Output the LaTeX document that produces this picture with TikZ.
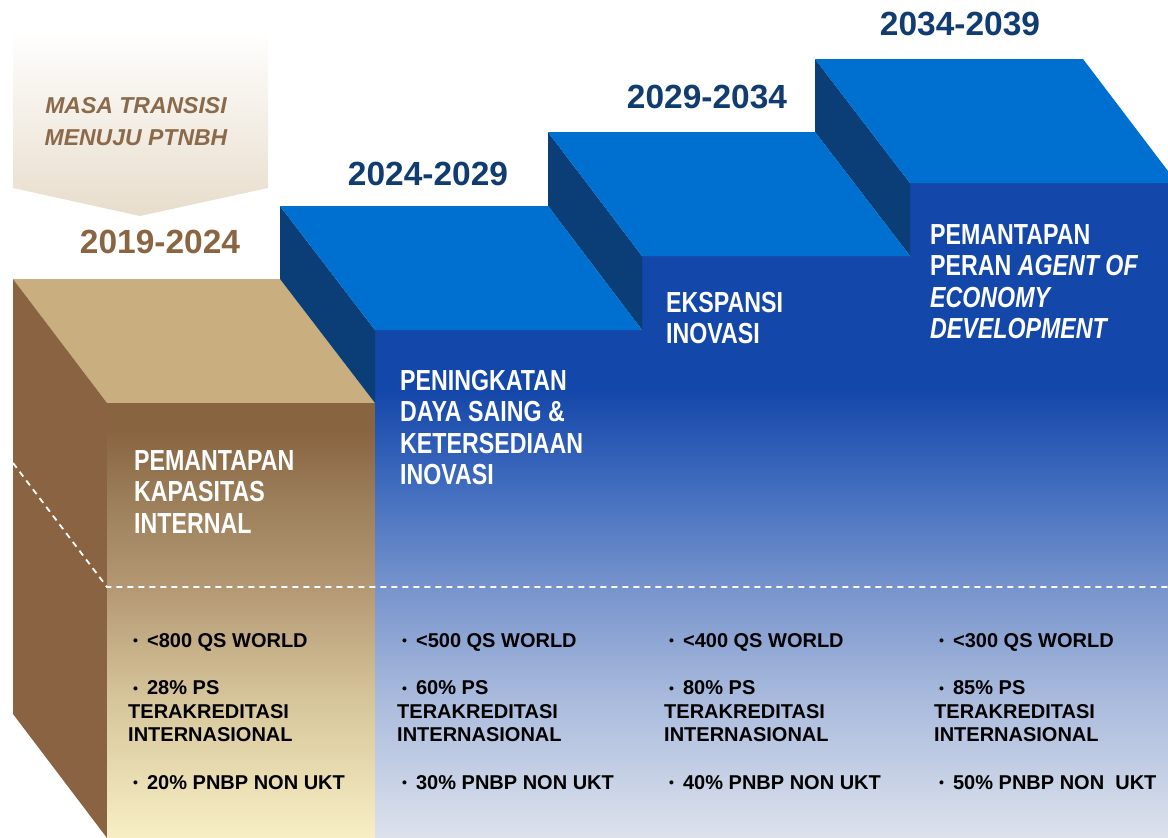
\documentclass[tikz,border=0pt]{standalone}
\usepackage{fontspec}
\setmainfont{Liberation Sans}
\newfontfamily\condfont[FakeStretch=0.8]{Liberation Sans}
\usetikzlibrary{positioning}

\definecolor{yearnavy}{RGB}{16, 60, 112}
\definecolor{yearbrown}{RGB}{139, 100, 65}
\definecolor{transbrown}{RGB}{138, 106, 75}
\definecolor{arrowbeige}{RGB}{232, 221, 204}
\definecolor{tantop}{RGB}{201, 174, 127}
\definecolor{tanside}{RGB}{138, 100, 66}
\definecolor{sidenavy}{RGB}{11, 62, 118}
\definecolor{topblue}{RGB}{0, 112, 208}
\definecolor{bluetop}{RGB}{20, 71, 170}
\definecolor{blueup}{RGB}{62, 106, 189}
\definecolor{bluemid}{RGB}{118, 147, 204}
\definecolor{bluelow}{RGB}{170, 187, 221}
\definecolor{bluebot}{RGB}{221, 226, 236}
\definecolor{browntop}{RGB}{137, 100, 65}
\definecolor{brownup}{RGB}{156, 126, 90}
\definecolor{brownmid}{RGB}{179, 152, 115}
\definecolor{brownlow}{RGB}{214, 197, 155}
\definecolor{brownbot}{RGB}{248, 239, 196}

\pgfdeclareverticalshading{bluefront}{100bp}{color(0bp)=(bluebot); color(25bp)=(bluebot); color(35.5bp)=(bluelow); color(44.2bp)=(bluemid); color(52.3bp)=(blueup); color(59.2bp)=(bluetop); color(100bp)=(bluetop)}
\pgfdeclareverticalshading{brownfront}{100bp}{color(0bp)=(brownbot); color(25bp)=(brownbot); color(40.9bp)=(brownlow); color(53.9bp)=(brownmid); color(63.9bp)=(brownup); color(71.9bp)=(browntop); color(100bp)=(browntop)}

\newcommand{\blt}{\hspace*{5pt}\raisebox{1.5pt}{\fontsize{14}{14}\selectfont\textbullet}\hspace{9pt}}

\begin{document}
\begin{tikzpicture}[x=1pt, y=-1pt,
  titletext/.style={text=white, font=\condfont\bfseries\fontsize{29}{31.5}\selectfont, align=left, anchor=north west, inner sep=0pt},
  yeartext/.style={font=\bfseries\fontsize{33.5}{36}\selectfont, anchor=base, inner sep=0pt},
  bullettext/.style={text=black, font=\bfseries\fontsize{20}{23.5}\selectfont, align=left, anchor=north west, inner sep=0pt},
  darkside/.style={fill=sidenavy},
  topface/.style={fill=topblue}]
  \useasboundingbox (0,0) rectangle (1168,838);

  % Transition arrow
  \shade[top color=white, bottom color=arrowbeige] (13,28) -- (268,28) -- (268,188) -- (140,216) -- (13,188) -- cycle;
  \node[font=\bfseries\itshape\fontsize{23}{32}\selectfont, text=transbrown, align=center, anchor=north, inner sep=0pt] (transisi) at (136,97) {MASA TRANSISI\\MENUJU PTNBH};

  % Brown block
  \fill[tantop] (13,279) -- (280,279) -- (375,403) -- (107,403) -- cycle;
  \fill[tanside] (13,279) -- (107,403) -- (107,838) -- (13,714) -- cycle;
  \shade[shading=brownfront] (107,403) rectangle (375,838);

  % Blue blocks
  \shade[shading=bluefront] (375,838) -- (375,330) -- (642,330) -- (642,256) -- (910,256) -- (910,183) -- (1168,183) -- (1168,838) -- cycle;
  \fill[darkside] (280,206) -- (375,330) -- (375,403) -- (280,279) -- cycle;
  \fill[darkside] (548,132) -- (642,256) -- (642,330) -- (548,206) -- cycle;
  \fill[darkside] (815,59) -- (910,183) -- (910,256) -- (815,132) -- cycle;
  \fill[topface] (280,206) -- (548,206) -- (642,330) -- (375,330) -- cycle;
  \fill[topface] (548,132) -- (815,132) -- (910,256) -- (642,256) -- cycle;
  \fill[topface] (815,59) -- (1083,59) -- (1168,171) -- (1168,183) -- (910,183) -- cycle;

  % Dashed divider
  \draw[white, line width=1.8pt, dash pattern=on 6pt off 5pt] (13,463) -- (107,587) -- (1168,587);

  % Periods
  \node[yeartext, text=yearbrown] (yearone) at (160,253) {2019-2024};
  \node[yeartext, text=yearnavy] (yeartwo) at (428,185) {2024-2029};
  \node[yeartext, text=yearnavy] (yearthree) at (707,108) {2029-2034};
  \node[yeartext, text=yearnavy] (yearfour) at (960,35) {2034-2039};

  % Stage titles
  \node[titletext] (titleone) at (134,450) {PEMANTAPAN\\KAPASITAS\\INTERNAL};
  \node[titletext] (titletwo) at (400,370) {PENINGKATAN\\DAYA SAING \&\\KETERSEDIAAN\\INOVASI};
  \node[titletext] (titlethree) at (666,292) {EKSPANSI\\INOVASI};
  \node[titletext] (titlefour) at (930,224) {PEMANTAPAN\\PERAN \textit{AGENT OF}\\\textit{ECONOMY}\\\textit{DEVELOPMENT}};

  % Targets
  \node[bullettext] (targetone) at (128,633) {\blt<800 QS WORLD\\[24pt]\blt 28\% PS\\TERAKREDITASI\\INTERNASIONAL\\[24pt]\blt 20\% PNBP NON UKT};
  \node[bullettext] (targettwo) at (397,633) {\blt<500 QS WORLD\\[24pt]\blt 60\% PS\\TERAKREDITASI\\INTERNASIONAL\\[24pt]\blt 30\% PNBP NON UKT};
  \node[bullettext] (targetthree) at (664,633) {\blt<400 QS WORLD\\[24pt]\blt 80\% PS\\TERAKREDITASI\\INTERNASIONAL\\[24pt]\blt 40\% PNBP NON UKT};
  \node[bullettext] (targetfour) at (934,633) {\blt<300 QS WORLD\\[24pt]\blt 85\% PS\\TERAKREDITASI\\INTERNASIONAL\\[24pt]\blt 50\% PNBP NON\ \ UKT};
\end{tikzpicture}
\end{document}
